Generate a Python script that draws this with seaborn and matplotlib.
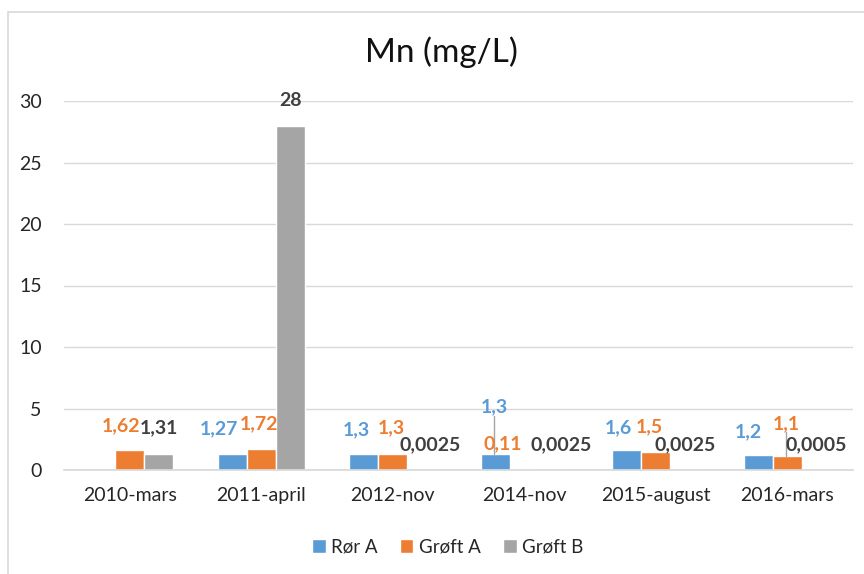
import numpy as np
import pandas as pd
import matplotlib
matplotlib.use("Agg")
import matplotlib.pyplot as plt
from matplotlib.patches import Rectangle
import seaborn as sns

# Sampling dates and measured manganese concentrations (mg/L)
dates = ["2010-mars", "2011-april", "2012-nov", "2014-nov", "2015-august", "2016-mars"]
series = ["Rør A", "Grøft A", "Grøft B"]
ror_a = [np.nan, 1.27, 1.3, 1.3, 1.6, 1.2]
groft_a = [1.62, 1.72, 1.3, 0.11, 1.5, 1.1]
groft_b = [1.31, 28, 0.0025, 0.0025, 0.0025, 0.0005]
y_ticks = [0, 5, 10, 15, 20, 25, 30]

colors = ["#5B9BD5", "#ED7D31", "#A5A5A5"]
label_colors = ["#5B9BD5", "#ED7D31", "#404040"]

df = pd.DataFrame({
    "Dato": dates * 3,
    "Serie": [s for s in series for _ in dates],
    "Mn": ror_a + groft_a + groft_b,
})

sns.set_theme(style="white")
plt.rcParams["font.family"] = ["Lato", "DejaVu Sans"]

fig = plt.figure(figsize=(8.64, 5.74), dpi=100)
ax = fig.add_axes([64 / 864, 1 - 470 / 574, (853 - 64) / 864, (470 - 101) / 574])

sns.barplot(data=df, x="Dato", y="Mn", hue="Serie", order=dates, hue_order=series,
            palette=colors, saturation=1, width=0.66, gap=0, ax=ax)

ax.set_ylim(0, 30)
ax.set_xlim(-0.5, len(dates) - 0.5)
ax.set_yticks(y_ticks)
ax.set_xlabel("")
ax.set_ylabel("")
ax.grid(axis="y", color="#D9D9D9", linewidth=1)
ax.set_axisbelow(True)
for side in ["left", "right", "top"]:
    ax.spines[side].set_visible(False)
ax.spines["bottom"].set_color("#D9D9D9")
ax.tick_params(axis="y", length=0, pad=16, labelsize=14, labelcolor="#262626")
ax.tick_params(axis="x", length=0, pad=12, labelsize=14, labelcolor="#262626")

fig.text(0.511, 1 - 52 / 574, "Mn (mg/L)", ha="center", va="center", fontsize=24, color="#111111")

# Label placement tweaks (pixels): (dx from bar centre, height of label centre above bar top)
nudge = {
    (0, 1): (-9, 24), (0, 2): (0, 26),
    (1, 0): (-13, 26), (1, 1): (-2, 25), (1, 2): (0, 25),
    (2, 0): (-7, 24), (2, 1): (-1, 26), (2, 2): (8, 25),
    (3, 0): (-1, 47), (3, 1): (-22, 25), (3, 2): (8, 25),
    (4, 0): (-8, 23), (4, 1): (-6, 25), (4, 2): (0, 25),
    (5, 0): (-10, 23), (5, 1): (-1, 33), (5, 2): (0, 25),
}

fig.canvas.draw()
px_per_x = ax.transData.get_matrix()[0, 0]
px_per_y = ax.transData.get_matrix()[1, 1]

values = [ror_a, groft_a, groft_b]
for si, cont in enumerate(ax.containers):
    for p in cont.patches:
        cx = p.get_x() + p.get_width() / 2
        ci = int(round(cx))
        v = values[si][ci]
        if v is None or np.isnan(v):
            continue
        text = f"{v:g}".replace(".", ",")
        dx, dy = nudge.get((ci, si), (0, 24))
        ax.annotate(text, xy=(cx, v), xytext=(dx, dy), textcoords="offset pixels",
                    ha="center", va="center", fontsize=14, fontweight="bold",
                    color=label_colors[si], annotation_clip=False)
        if dy > 30:
            # leader line from a displaced label down to its bar
            lx = cx + dx / px_per_x
            ax.plot([lx, lx], [v, v + (dy - 9) / px_per_y],
                    color="#A5A5A5", linewidth=1, clip_on=False)

handles, labels = ax.get_legend_handles_labels()
ax.legend(handles, labels, loc="center", bbox_to_anchor=(448 / 864, 1 - 547 / 574),
          bbox_transform=fig.transFigure, ncol=3, frameon=False, fontsize=13.5,
          handlelength=0.7, handleheight=0.7, handletextpad=0.3, columnspacing=1.2,
          labelcolor="#262626")

# Chart area outline
fig.patches.append(Rectangle((8 / 864, -0.01), 1.0, (574 - 12) / 574 + 0.01,
                             transform=fig.transFigure, fill=False,
                             edgecolor="#D9D9D9", linewidth=1.2))

fig.savefig("out.png", dpi=100)
